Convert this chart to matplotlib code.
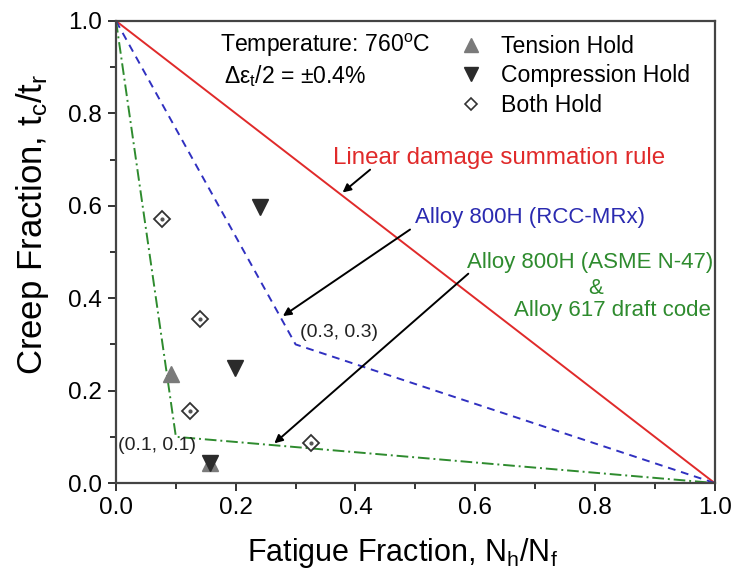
import matplotlib
matplotlib.use("Agg")
import matplotlib.pyplot as plt
from matplotlib.lines import Line2D
from matplotlib.ticker import MultipleLocator

plt.rcParams["font.family"] = ["Liberation Sans", "DejaVu Sans"]
plt.rcParams["mathtext.fontset"] = "custom"
plt.rcParams["mathtext.rm"] = "Liberation Sans"
plt.rcParams["mathtext.it"] = "Liberation Sans"

# creep-fatigue interaction envelopes (fatigue fraction, creep fraction)
linear_x = [0.0, 1.0]
linear_y = [1.0, 0.0]
rccmrx_x = [0.0, 0.3, 1.0]
rccmrx_y = [1.0, 0.3, 0.0]
asme_x = [0.0, 0.1, 1.0]
asme_y = [1.0, 0.1, 0.0]

# test results
tension_x = [0.092, 0.157]
tension_y = [0.236, 0.043]
compression_x = [0.24, 0.198, 0.157]
compression_y = [0.598, 0.249, 0.043]
both_x = [0.076, 0.141, 0.124, 0.326]
both_y = [0.572, 0.355, 0.156, 0.086]

fig = plt.figure(figsize=(7.39, 5.83), dpi=100)
ax = fig.add_axes([0.157, 0.1715, 0.81, 0.7925])

ax.plot(linear_x, linear_y, color="#e02a2a", lw=1.4)
ax.plot(rccmrx_x, rccmrx_y, color="#3030c0", lw=1.4, ls=(0, (4, 3)))
ax.plot(asme_x, asme_y, color="#2e8b2e", lw=1.4, ls=(0, (6, 2, 1, 2)))

ax.plot(tension_x, tension_y, ls="none", marker="^", ms=11, color="#7a7a7a", zorder=4)
ax.plot(compression_x, compression_y, ls="none", marker="v", ms=11, color="#2b2b2b", zorder=5)
ax.plot(both_x, both_y, ls="none", marker="D", ms=8, mfc="white", mec="#333333", mew=1.3, zorder=4)
ax.plot(both_x, both_y, ls="none", marker="o", ms=2, color="#555555", zorder=5)

ax.set_xlim(0, 1)
ax.set_ylim(0, 1)
ax.xaxis.set_major_locator(MultipleLocator(0.2))
ax.yaxis.set_major_locator(MultipleLocator(0.2))
ax.xaxis.set_minor_locator(MultipleLocator(0.1))
ax.yaxis.set_minor_locator(MultipleLocator(0.1))
ax.tick_params(which="both", direction="out", width=1.4, color="#333333", labelsize=17.5, top=False, right=False)
ax.tick_params(which="major", length=6, pad=4)
ax.tick_params(which="minor", length=4)
for sp in ax.spines.values():
    sp.set_linewidth(1.6)
    sp.set_color("#444444")

ax.set_xlabel("Fatigue Fraction, N$_h$/N$_f$", fontsize=22, labelpad=12)
ax.set_ylabel("Creep Fraction, t$_c$/t$_r$", fontsize=25, labelpad=12)
ax.xaxis.label.set_x(0.478)
ax.yaxis.label.set_y(0.56)

ax.text(0.174, 0.948, "Temperature: 760$^{\\rm o}$C", fontsize=16.6, va="center")
ax.text(0.18, 0.880, "$\\Delta\\varepsilon_t$/2 = \u00b10.4%", fontsize=16.6, va="center")

handles = [
    Line2D([], [], ls="none", marker="^", ms=10, color="#7a7a7a"),
    Line2D([], [], ls="none", marker="v", ms=10, color="#2b2b2b"),
    Line2D([], [], ls="none", marker="D", ms=6, mfc="white", mec="#333333", mew=1.2),
]
ax.legend(handles, ["Tension Hold", "Compression Hold", "Both Hold"], loc="upper left",
          bbox_to_anchor=(0.555, 0.99), frameon=False, fontsize=16.6, handlelength=1.2,
          handletextpad=0.7, labelspacing=0.28, borderaxespad=0)

arrow = dict(arrowstyle="-|>", color="black", lw=1.4, mutation_scale=12)
ax.annotate("", xy=(0.375, 0.625), xytext=(0.428, 0.682), arrowprops=arrow)
ax.annotate("", xy=(0.275, 0.358), xytext=(0.495, 0.552), arrowprops=arrow)
ax.annotate("", xy=(0.261, 0.082), xytext=(0.592, 0.457), arrowprops=arrow)

ax.text(0.362, 0.703, "Linear damage summation rule", color="#e02a2a", fontsize=17.4, va="center")
ax.text(0.50, 0.574, "Alloy 800H (RCC-MRx)", color="#2a2ab0", fontsize=16, va="center")
ax.text(0.587, 0.478, "Alloy 800H (ASME N-47)", color="#2e8b2e", fontsize=16, va="center")
ax.text(0.801, 0.422, "&", color="#2e8b2e", fontsize=16, va="center", ha="center")
ax.text(0.993, 0.374, "Alloy 617 draft code", color="#2e8b2e", fontsize=16, va="center", ha="right")
ax.text(0.308, 0.325, "(0.3, 0.3)", fontsize=14, va="center", color="#222222")
ax.text(0.003, 0.082, "(0.1, 0.1)", fontsize=14, va="center", color="#222222")

fig.savefig("out.png", dpi=100)
